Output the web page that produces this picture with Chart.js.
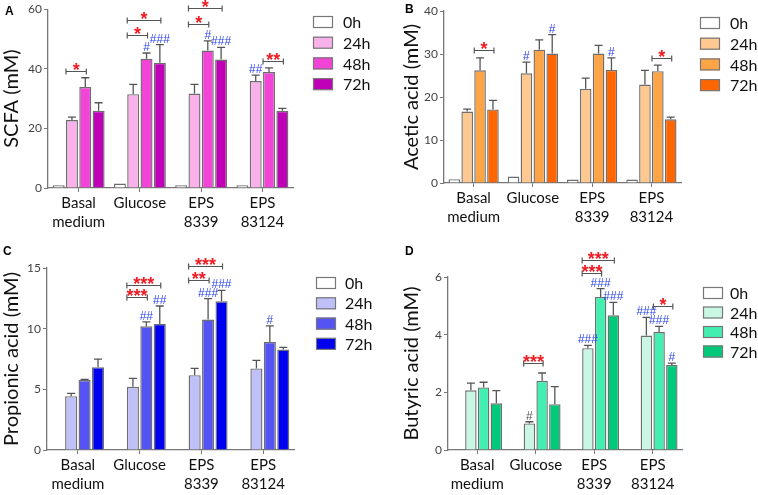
<!DOCTYPE html>
<html>
<head>
<meta charset="utf-8">
<script src="https://cdn.jsdelivr.net/npm/chart.js@4.4.0/dist/chart.umd.min.js"></script>
<style>
  body { margin: 0; background: #fff; width: 758px; height: 495px; position: relative; overflow: hidden; }
  canvas { position: absolute; }
  .tag { position: absolute; font: bold 12px "Liberation Sans", Arial, sans-serif; color: #000; }
</style>
</head>
<body>
<canvas id="chartA" width="379" height="245" style="left:0;top:0"></canvas>
<canvas id="chartB" width="378" height="245" style="left:380px;top:0"></canvas>
<canvas id="chartC" width="379" height="250" style="left:0;top:245px"></canvas>
<canvas id="chartD" width="378" height="250" style="left:380px;top:245px"></canvas>
<div class="tag" style="left:5px;top:4px">A</div>
<div class="tag" style="left:405px;top:2px">B</div>
<div class="tag" style="left:3px;top:244px">C</div>
<div class="tag" style="left:405px;top:244px">D</div>

<script>
// ---------- Data ----------
const groupLabels = [["Basal", "medium"], "Glucose", ["EPS", "8339"], ["EPS", "83124"]];
const timePoints = ["0h", "24h", "48h", "72h"];

// A: SCFA (rows = 0h, 24h, 48h, 72h ; cols = groups)
const scfaMean = [
  [0.9, 1.5, 0.9, 0.9],
  [22.8, 31.5, 31.7, 35.9],
  [33.9, 43.4, 46.1, 38.9],
  [25.9, 42.0, 43.1, 25.9]
];
const scfaErr = [
  [0, 0, 0, 0],
  [1.0, 3.3, 3.1, 2.0],
  [3.1, 1.9, 3.3, 1.4],
  [2.7, 6.1, 4.1, 0.8]
];
const scfaHash = [
  ["", "", "", ""],
  ["", "", "", "##"],
  ["", "#", "#", ""],
  ["", "###", "###", ""]
];
// [group, fromSeries, toSeries, yValue, label]
const scfaStars = [
  [0, 1, 2, 39.4, "*"],
  [1, 1, 2, 51.4, "*"],
  [1, 1, 3, 56.4, "*"],
  [2, 1, 2, 55.2, "*"],
  [2, 1, 3, 60.4, "*"],
  [3, 2, 3, 42.5, "**"]
];

// B: acetic acid
const aceticMean = [
  [0.9, 1.5, 0.8, 0.8],
  [16.6, 25.5, 21.9, 22.9],
  [26.2, 31.0, 30.1, 26.0],
  [17.1, 30.1, 26.3, 14.8]
];
const aceticErr = [
  [0, 0, 0, 0],
  [0.6, 2.6, 2.5, 3.3],
  [2.9, 2.3, 1.9, 1.4],
  [2.1, 4.4, 2.8, 0.5]
];
const aceticHash = [
  ["", "", "", ""],
  ["", "#", "", ""],
  ["", "", "", ""],
  ["", "#", "#", ""]
];
const aceticStars = [
  [0, 2, 3, 30.9, "*"],
  [3, 2, 3, 29.1, "*"]
];

// C: propionic acid
const propionicMean = [
  [0, 0, 0, 0],
  [4.44, 5.21, 6.17, 6.72],
  [5.76, 10.2, 10.75, 8.91],
  [6.83, 10.39, 12.26, 8.28]
];
const propionicErr = [
  [0, 0, 0, 0],
  [0.22, 0.69, 0.55, 0.66],
  [0.05, 0.36, 1.73, 1.32],
  [0.66, 1.48, 0.9, 0.17]
];
const propionicHash = [
  ["", "", "", ""],
  ["", "", "", ""],
  ["", "##", "###", "#"],
  ["", "##", "###", ""]
];
const propionicStars = [
  [1, 1, 2, 12.6, "***"],
  [1, 1, 3, 13.6, "***"],
  [2, 1, 2, 14.0, "**"],
  [2, 1, 3, 15.2, "***"]
];

// D: butyric acid
const butyricMean = [
  [0, 0, 0, 0],
  [2.07, 0.92, 3.53, 3.97],
  [2.17, 2.40, 5.31, 4.09],
  [1.62, 1.59, 4.67, 2.95]
];
const butyricErr = [
  [0, 0, 0, 0],
  [0.25, 0.06, 0.1, 0.63],
  [0.18, 0.27, 0.29, 0.2],
  [0.44, 0.61, 0.45, 0.06]
];
const butyricHash = [
  ["", "", "", ""],
  ["", "#", "###", "###"],
  ["", "", "###", "###"],
  ["", "", "###", "#"]
];
const butyricGrayHash = [[1, 1]]; // [series, group] drawn in gray
const butyricStars = [
  [1, 1, 2, 3.01, "***"],
  [2, 1, 2, 6.14, "***"],
  [2, 1, 3, 6.6, "***"],
  [3, 2, 3, 4.98, "*"]
];

// ---------- Colours ----------
const pinkColors = ["#ffffff", "#f9b2e9", "#f244d6", "#c000b6"];
const orangeColors = ["#ffffff", "#fec891", "#fda446", "#ff6600"];
const blueColors = ["#ffffff", "#c0c0f8", "#5454f4", "#0000f0"];
const greenColors = ["#ffffff", "#c9f7e4", "#42efb1", "#00c97a"];

// ---------- Extras plugin: error bars, marks, brackets, legend ----------
const extrasPlugin = {
  id: "extras",
  afterDatasetsDraw(chart, args, opts) {
    const ctx = chart.ctx;
    const yScale = chart.scales.y;
    ctx.save();

    chart.data.datasets.forEach((ds, i) => {
      const meta = chart.getDatasetMeta(i);
      meta.data.forEach((bar, j) => {
        const e = opts.err[i][j];
        const top = yScale.getPixelForValue(ds.data[j] + e);
        if (e > 0) {
          ctx.strokeStyle = "#555";
          ctx.lineWidth = 1.3;
          ctx.beginPath();
          ctx.moveTo(bar.x, bar.y);
          ctx.lineTo(bar.x, top);
          ctx.moveTo(bar.x - 4, top);
          ctx.lineTo(bar.x + 4, top);
          ctx.stroke();
        }
        const h = opts.hash[i][j];
        if (h) {
          const gray = (opts.gray || []).some(g => g[0] === i && g[1] === j);
          ctx.fillStyle = gray ? "#555" : "#2b44ee";
          ctx.font = "12px 'Liberation Sans', Arial, sans-serif";
          ctx.textAlign = "center";
          ctx.textBaseline = "alphabetic";
          ctx.fillText(h, bar.x, top - 2);
        }
      });
    });

    opts.stars.forEach(([g, a, b, v, label]) => {
      const from = chart.getDatasetMeta(a).data[g];
      const to = chart.getDatasetMeta(b).data[g];
      const x1 = from.x - from.width / 2;
      const x2 = to.x + 1;
      const py = Math.round(yScale.getPixelForValue(v)) + 0.5;
      ctx.strokeStyle = "#555";
      ctx.lineWidth = 1.2;
      ctx.beginPath();
      ctx.moveTo(x1, py);
      ctx.lineTo(x2, py);
      ctx.moveTo(x1, py - 3);
      ctx.lineTo(x1, py + 3);
      ctx.moveTo(x2, py - 3);
      ctx.lineTo(x2, py + 3);
      ctx.stroke();
      ctx.fillStyle = "#ee1c24";
      ctx.font = "bold 18px 'Liberation Sans', Arial, sans-serif";
      ctx.textAlign = "center";
      ctx.textBaseline = "alphabetic";
      ctx.fillText(label, (x1 + x2) / 2, py + 4);
    });

    // legend
    const L = opts.legend;
    chart.data.datasets.forEach((ds, i) => {
      const cy = L.y + i * L.step;
      ctx.fillStyle = ds.backgroundColor;
      ctx.fillRect(L.x, cy - 6, 20, 12);
      ctx.strokeStyle = "#777";
      ctx.lineWidth = 1.2;
      ctx.strokeRect(L.x + 0.5, cy - 5.5, 19, 11);
      ctx.fillStyle = "#111";
      ctx.font = "16px Lato, sans-serif";
      ctx.textAlign = "left";
      ctx.textBaseline = "middle";
      ctx.fillText(ds.label, L.x + L.gap, cy + 1);
    });

    ctx.restore();
  }
};

// ---------- Chart builder ----------
function buildPanel(canvasId, p) {
  const ctx = document.getElementById(canvasId).getContext("2d");
  return new Chart(ctx, {
    type: "bar",
    data: {
      labels: groupLabels,
      datasets: timePoints.map((t, i) => ({
        label: t,
        data: p.mean[i],
        backgroundColor: p.colors[i],
        borderColor: "#6e6e6e",
        borderWidth: 1.4,
        categoryPercentage: 0.87,
        barPercentage: 0.9
      }))
    },
    plugins: [extrasPlugin],
    options: {
      responsive: false,
      animation: false,
      layout: { padding: { left: p.padLeft, top: p.padTop, right: p.padRight, bottom: 0 } },
      plugins: {
        legend: { display: false },
        tooltip: { enabled: false },
        extras: { err: p.err, hash: p.hash, stars: p.stars, gray: p.gray, legend: p.legend }
      },
      scales: {
        x: {
          grid: { display: true, drawOnChartArea: false, offset: false, tickLength: 4, color: "#777" },
          border: { color: "#777", width: 1.3 },
          ticks: { font: { family: "Lato", size: 15, lineHeight: 1.3 }, color: "#111", padding: 1, maxRotation: 0, autoSkip: false },
          afterFit(s) { s.height = p.xHeight; }
        },
        y: {
          min: 0,
          max: p.max,
          ticks: { stepSize: p.step, font: { family: "Lato", size: 12 }, color: "#444", padding: 2 },
          grid: { display: true, drawOnChartArea: false, tickLength: 4, color: "#777" },
          border: { color: "#777", width: 1.3 },
          title: { display: true, text: p.title, font: { family: "Lato", size: 20 }, color: "#111", padding: { top: 0, bottom: 2 } },
          afterFit(s) { s.width = p.yWidth; }
        }
      }
    }
  });
}

buildPanel("chartA", {
  mean: scfaMean, err: scfaErr, hash: scfaHash, stars: scfaStars, colors: pinkColors,
  title: "SCFA (mM)", max: 60, step: 20,
  padLeft: 0, yWidth: 48, padTop: 7, padRight: 86, xHeight: 57,
  legend: { x: 313, y: 22, step: 20.7, gap: 30 }
});

buildPanel("chartB", {
  mean: aceticMean, err: aceticErr, hash: aceticHash, stars: aceticStars, colors: orangeColors,
  title: "Acetic acid (mM)", max: 40, step: 10,
  padLeft: 20, yWidth: 44, padTop: 11, padRight: 77, xHeight: 62,
  legend: { x: 320, y: 23, step: 20.7, gap: 30 }
});

buildPanel("chartC", {
  mean: propionicMean, err: propionicErr, hash: propionicHash, stars: propionicStars, colors: blueColors,
  title: "Propionic acid (mM)", max: 15, step: 5,
  padLeft: 0, yWidth: 47, padTop: 23, padRight: 85, xHeight: 45,
  legend: { x: 316, y: 38, step: 20.3, gap: 29 }
});

buildPanel("chartD", {
  mean: butyricMean, err: butyricErr, hash: butyricHash, stars: butyricStars, gray: butyricGrayHash, colors: greenColors,
  title: "Butyric acid (mM)", max: 6, step: 2,
  padLeft: 20, yWidth: 48, padTop: 32, padRight: 76, xHeight: 45,
  legend: { x: 323, y: 48, step: 19.5, gap: 27 }
});
</script>
</body>
</html>
